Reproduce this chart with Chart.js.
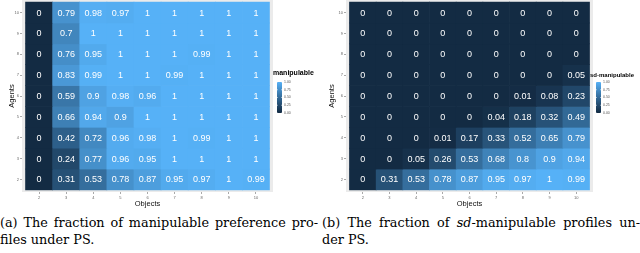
<!DOCTYPE html>
<html lang="en">
<head>
<meta charset="UTF-8">
<title>Manipulability heatmaps</title>
<script src="https://cdn.jsdelivr.net/npm/chart.js"></script>
<style>
    body {
        margin: 0;
        background: #fff;
        width: 640px;
        height: 253px;
        position: relative;
        overflow: hidden;
    }
    canvas {
        position: absolute;
        top: 0;
    }
    .cap {
        position: absolute;
        font-family: "DejaVu Serif", serif;
        font-size: 12.8px;
        color: #000;
        line-height: 17px;
    }
    .cap .l1 {
        text-align: justify;
        text-align-last: justify;
        white-space: nowrap;
    }
    .cap i { font-style: italic; }
</style>
</head>
<body>
<canvas id="chartA" width="320" height="210" style="left:0"></canvas>
<canvas id="chartB" width="320" height="210" style="left:320px"></canvas>
<div class="cap" style="left:0;top:214px;width:318px">
    <div class="l1">(a) The fraction of manipulable preference pro-</div>
    <div>files under PS.</div>
</div>
<div class="cap" style="left:322px;top:214px;width:318px">
    <div class="l1">(b) The fraction of <i>sd</i>-manipulable profiles un-</div>
    <div>der PS.</div>
</div>
<script>
// columns = number of objects, rows = number of agents (top row first)
const objects = [2, 3, 4, 5, 6, 7, 8, 9, 10];
const agents = [10, 9, 8, 7, 6, 5, 4, 3, 2];
const legendTicks = [0, 0.25, 0.5, 0.75, 1];

const manipulable = [
    [0, 0.79, 0.98, 0.97, 1, 1, 1, 1, 1],
    [0, 0.7, 1, 1, 1, 1, 1, 1, 1],
    [0, 0.76, 0.95, 1, 1, 1, 0.99, 1, 1],
    [0, 0.83, 0.99, 1, 1, 0.99, 1, 1, 1],
    [0, 0.59, 0.9, 0.98, 0.96, 1, 1, 1, 1],
    [0, 0.66, 0.94, 0.9, 1, 1, 1, 1, 1],
    [0, 0.42, 0.72, 0.96, 0.98, 1, 0.99, 1, 1],
    [0, 0.24, 0.77, 0.96, 0.95, 1, 1, 1, 1],
    [0, 0.31, 0.53, 0.78, 0.87, 0.95, 0.97, 1, 0.99]
];

const sdManipulable = [
    [0, 0, 0, 0, 0, 0, 0, 0, 0],
    [0, 0, 0, 0, 0, 0, 0, 0, 0],
    [0, 0, 0, 0, 0, 0, 0, 0, 0],
    [0, 0, 0, 0, 0, 0, 0, 0, 0.05],
    [0, 0, 0, 0, 0, 0, 0.01, 0.08, 0.23],
    [0, 0, 0, 0, 0, 0.04, 0.18, 0.32, 0.49],
    [0, 0, 0, 0.01, 0.17, 0.33, 0.52, 0.65, 0.79],
    [0, 0, 0.05, 0.26, 0.53, 0.68, 0.8, 0.9, 0.94],
    [0, 0.31, 0.53, 0.78, 0.87, 0.95, 0.97, 1, 0.99]
];

// ggplot-style gradient #132B43 -> #56B1F7, interpolated in Lab
function toLin(c) { c /= 255; return c <= 0.04045 ? c / 12.92 : Math.pow((c + 0.055) / 1.055, 2.4); }
function fromLin(c) { c = c <= 0.0031308 ? 12.92 * c : 1.055 * Math.pow(c, 1 / 2.4) - 0.055; return Math.round(Math.max(0, Math.min(1, c)) * 255); }
function rgb2lab(r, g, b) {
    r = toLin(r); g = toLin(g); b = toLin(b);
    let x = (r * 0.4124 + g * 0.3576 + b * 0.1805) / 0.95047;
    let y = (r * 0.2126 + g * 0.7152 + b * 0.0722);
    let z = (r * 0.0193 + g * 0.1192 + b * 0.9505) / 1.08883;
    const f = t => t > 0.008856 ? Math.cbrt(t) : 7.787 * t + 16 / 116;
    x = f(x); y = f(y); z = f(z);
    return [116 * y - 16, 500 * (x - y), 200 * (y - z)];
}
function lab2rgb(L, a, bb) {
    let y = (L + 16) / 116, x = a / 500 + y, z = y - bb / 200;
    const fi = t => t * t * t > 0.008856 ? t * t * t : (t - 16 / 116) / 7.787;
    x = fi(x) * 0.95047; y = fi(y); z = fi(z) * 1.08883;
    const r = x * 3.2406 + y * -1.5372 + z * -0.4986;
    const g = x * -0.9689 + y * 1.8758 + z * 0.0415;
    const b = x * 0.0557 + y * -0.2040 + z * 1.0570;
    return `rgb(${fromLin(r)},${fromLin(g)},${fromLin(b)})`;
}
const lowLab = rgb2lab(0x13, 0x2B, 0x43);
const highLab = rgb2lab(0x56, 0xB1, 0xF7);
function colorFor(v) {
    return lab2rgb(
        lowLab[0] + (highLab[0] - lowLab[0]) * v,
        lowLab[1] + (highLab[1] - lowLab[1]) * v,
        lowLab[2] + (highLab[2] - lowLab[2]) * v
    );
}

const panelBg = {
    id: 'panelBg',
    beforeDatasetsDraw(chart) {
        const a = chart.chartArea;
        chart.ctx.save();
        chart.ctx.fillStyle = '#EBEBEB';
        chart.ctx.fillRect(a.left, a.top, a.right - a.left, a.bottom - a.top);
        chart.ctx.restore();
    }
};

const cellLabels = {
    id: 'cellLabels',
    afterDatasetsDraw(chart) {
        const ctx = chart.ctx;
        ctx.save();
        ctx.fillStyle = '#ffffff';
        ctx.font = '9px "Liberation Sans", Arial, sans-serif';
        ctx.textAlign = 'center';
        ctx.textBaseline = 'middle';
        chart.data.datasets.forEach((ds, di) => {
            chart.getDatasetMeta(di).data.forEach((el, i) => {
                ctx.fillText(String(ds.values[i]), el.x, (el.y + el.base) / 2 + 0.5);
            });
        });
        ctx.restore();
    }
};

const colorbar = {
    id: 'colorbar',
    afterDraw(chart) {
        const o = chart.options.plugins.colorbar;
        const ctx = chart.ctx;
        const x0 = chart.chartArea.right + o.dx;
        ctx.save();
        ctx.fillStyle = '#000';
        ctx.font = 'bold ' + o.titleSize + 'px "Liberation Sans", Arial, sans-serif';
        ctx.textBaseline = 'middle';
        ctx.fillText(o.title, chart.chartArea.right + o.titleDx, o.titleY);
        const top = 82, bottom = 113, w = 5;
        const grad = ctx.createLinearGradient(0, bottom, 0, top);
        for (let k = 0; k <= 10; k++) grad.addColorStop(k / 10, colorFor(k / 10));
        ctx.fillStyle = grad;
        ctx.fillRect(x0, top, w, bottom - top);
        ctx.strokeStyle = '#fff';
        ctx.lineWidth = 0.5;
        ctx.fillStyle = '#555';
        ctx.font = '3.5px "Liberation Sans", Arial, sans-serif';
        legendTicks.forEach(t => {
            const y = bottom - (bottom - top) * t;
            ctx.beginPath();
            ctx.moveTo(x0, y); ctx.lineTo(x0 + 1, y);
            ctx.moveTo(x0 + w - 1, y); ctx.lineTo(x0 + w, y);
            ctx.stroke();
            ctx.fillText(t.toFixed(2), x0 + w + 2, y);
        });
        ctx.restore();
    }
};

function makeChart(id, values, yAxisWidth, legend) {
    const datasets = agents.map((a, r) => ({
        data: objects.map(o => ({ x: o, y: [a - 0.5, a + 0.5] })),
        values: values[r],
        backgroundColor: values[r].map(colorFor),
        borderWidth: 0,
        barPercentage: 1,
        categoryPercentage: 1,
        grouped: false
    }));
    const tickFont = { size: 4, family: '"Liberation Sans", Arial, sans-serif' };
    const titleFont = { size: 7.5, family: '"Liberation Sans", Arial, sans-serif' };
    return new Chart(document.getElementById(id), {
        type: 'bar',
        data: { datasets },
        options: {
            responsive: false,
            animation: false,
            layout: { padding: { top: 0, right: 47, left: 0, bottom: 0 } },
            plugins: { legend: { display: false }, tooltip: { enabled: false }, colorbar: legend },
            scales: {
                x: {
                    type: 'linear',
                    offset: false,
                    min: 1.37, max: 10.63,
                    afterBuildTicks: s => { s.ticks = objects.map(v => ({ value: v })); },
                    afterFit: s => { s.height = 18; s.paddingLeft = 0; s.paddingRight = 0; },
                    grid: { offset: false, drawOnChartArea: false, tickLength: 2, color: '#555', lineWidth: 0.5 },
                    border: { display: false },
                    ticks: { font: tickFont, color: '#666', padding: 1, maxRotation: 0, autoSkip: false },
                    title: { display: true, text: 'Objects', font: titleFont, color: '#111', padding: { top: 0, bottom: 1.5 } }
                },
                y: {
                    type: 'linear',
                    min: 1.4, max: 10.6,
                    afterBuildTicks: s => { s.ticks = agents.map(v => ({ value: v })); },
                    afterFit: s => { s.width = yAxisWidth; s.paddingTop = 0; s.paddingBottom = 0; },
                    grid: { drawOnChartArea: false, tickLength: 2, color: '#555', lineWidth: 0.5 },
                    border: { display: false },
                    ticks: { font: tickFont, color: '#666', padding: 1, autoSkip: false },
                    title: { display: true, text: 'Agents', font: titleFont, color: '#111', padding: { top: 7, bottom: 0 } }
                }
            }
        },
        plugins: [panelBg, cellLabels, colorbar]
    });
}

makeChart('chartA', manipulable, 22, { title: 'manipulable', titleSize: 7, titleDx: 0, titleY: 73, dx: 4 });
makeChart('chartB', sdManipulable, 26, { title: 'sd-manipulable', titleSize: 6, titleDx: -3, titleY: 75, dx: 3 });
</script>
</body>
</html>
